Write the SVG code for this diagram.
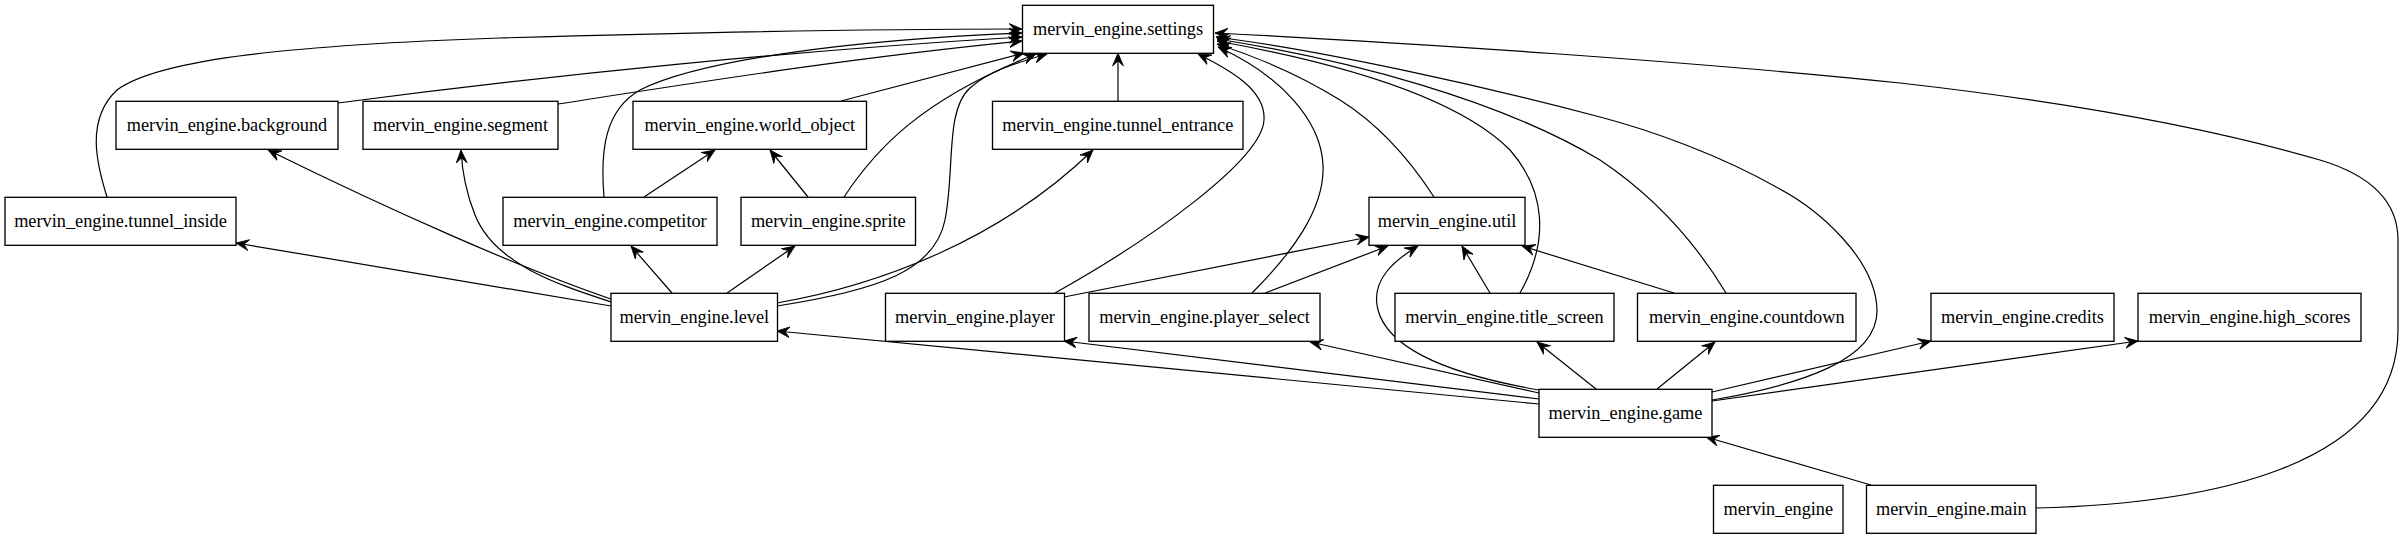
<svg xmlns="http://www.w3.org/2000/svg" width="2406" height="539" viewBox="0 0 2406 539">
<style>
.n rect{fill:#fff;stroke:#000;stroke-width:1.33}
.n text{font-family:"Liberation Serif","Times New Roman",serif;font-size:18.3px;text-anchor:middle;fill:#000}
.e path{fill:none;stroke:#000;stroke-width:1.2;marker-end:url(#arr)}
</style>
<defs>
<marker id="arr" markerUnits="userSpaceOnUse" markerWidth="14" markerHeight="12" viewBox="0 0 14 12" refX="13" refY="6" orient="auto">
<path d="M0,0.5 L13,6 L0,11.5 L5,6 Z" fill="#000" stroke="#000" stroke-width="0.8"/>
</marker>
</defs>
<rect width="2406" height="539" fill="#fff"/>
<g id="connectors" class="e">
<!-- to settings -->
<path d="M107,197 C97,165 85,120 117,90 C160,58 300,45 500,38 C700,32 900,29 1022,29"/>
<path d="M338,103 C550,75 800,50 1022,37"/>
<path d="M558,104 C700,82 850,58 1022,41"/>
<path d="M604,197 C600,150 605,110 640,90 C700,60 850,40 1022,33"/>
<path d="M841,101 L1024,53"/>
<path d="M844,197 C875,150 920,100 1036,54"/>
<path d="M777,306 C880,290 935,270 945,220 C955,170 945,110 970,88 C990,70 1020,62 1047,54"/>
<path d="M1118,101 L1118,53"/>
<path d="M1055,293 C1150,240 1262,160 1264,120 C1266,90 1230,70 1198,54"/>
<path d="M1252,293 C1290,255 1325,210 1323,165 C1321,120 1280,75 1218,47"/>
<path d="M1434,197 C1410,160 1380,125 1340,100 C1300,75 1260,58 1217,44"/>
<path d="M1520,293 C1550,240 1545,190 1510,150 C1460,100 1350,65 1217,41"/>
<path d="M1726,293 C1700,250 1660,200 1600,160 C1500,100 1350,60 1217,39"/>
<path d="M1712,400 C1800,385 1878,360 1877,310 C1876,260 1820,210 1778,188 C1720,155 1650,130 1600,117 C1480,85 1320,50 1216,37"/>
<path d="M2036,508 C2200,504 2398,470 2398,330 L2398,240 C2398,200 2370,175 2320,160 C2200,125 2050,100 1900,83 C1700,62 1400,42 1215,33"/>
<!-- to util -->
<path d="M1064,297 L1369,237"/>
<path d="M1265,293 L1388,246"/>
<path d="M1539,390 C1470,378 1390,355 1378,310 C1370,280 1395,260 1418,246"/>
<path d="M1490,293 L1462,246"/>
<path d="M1674,293 L1522,246"/>
<!-- from level -->
<path d="M611,299 C520,268 390,210 268,150"/>
<path d="M611,302 C560,285 495,265 475,215 C465,190 462,170 461,150"/>
<path d="M611,306 L236,243"/>
<path d="M672,293 L631,246"/>
<path d="M727,293 L795,246"/>
<path d="M777,303 C880,285 1000,240 1093,150"/>
<!-- to world_object -->
<path d="M644,197 L715,150"/>
<path d="M808,197 L770,150"/>
<!-- from game -->
<path d="M1539,404 L777,331"/>
<path d="M1539,399 L1064,341"/>
<path d="M1539,393 L1310,342"/>
<path d="M1596,389 L1537,342"/>
<path d="M1657,389 L1715,342"/>
<path d="M1712,392 L1931,341"/>
<path d="M1712,401 L2138,341"/>
<!-- main to game -->
<path d="M1871,485 L1706,437"/>
</g>
<g id="node-settings" class="n"><rect x="1022.5" y="5.3" width="191" height="48"/><text x="1118" y="34.8">mervin_engine.settings</text></g>
<g id="node-background" class="n"><rect x="116" y="101.3" width="222" height="48"/><text x="227" y="130.8">mervin_engine.background</text></g>
<g id="node-segment" class="n"><rect x="363" y="101.3" width="195" height="48"/><text x="460.5" y="130.8">mervin_engine.segment</text></g>
<g id="node-world_object" class="n"><rect x="633" y="101.3" width="233.5" height="48"/><text x="749.8" y="130.8">mervin_engine.world_object</text></g>
<g id="node-tunnel_entrance" class="n"><rect x="992.5" y="101.3" width="250.5" height="48"/><text x="1117.8" y="130.8">mervin_engine.tunnel_entrance</text></g>
<g id="node-tunnel_inside" class="n"><rect x="5" y="197.3" width="231" height="48"/><text x="120.5" y="226.8">mervin_engine.tunnel_inside</text></g>
<g id="node-competitor" class="n"><rect x="503" y="197.3" width="214" height="48"/><text x="610" y="226.8">mervin_engine.competitor</text></g>
<g id="node-sprite" class="n"><rect x="741" y="197.3" width="174.5" height="48"/><text x="828.3" y="226.8">mervin_engine.sprite</text></g>
<g id="node-util" class="n"><rect x="1369" y="197.3" width="156" height="48"/><text x="1447" y="226.8">mervin_engine.util</text></g>
<g id="node-level" class="n"><rect x="611" y="293.3" width="166.5" height="48"/><text x="694.3" y="322.8">mervin_engine.level</text></g>
<g id="node-player" class="n"><rect x="885.5" y="293.3" width="179" height="48"/><text x="975" y="322.8">mervin_engine.player</text></g>
<g id="node-player_select" class="n"><rect x="1089" y="293.3" width="231" height="48"/><text x="1204.5" y="322.8">mervin_engine.player_select</text></g>
<g id="node-title_screen" class="n"><rect x="1395" y="293.3" width="219" height="48"/><text x="1504.5" y="322.8">mervin_engine.title_screen</text></g>
<g id="node-countdown" class="n"><rect x="1637.5" y="293.3" width="218.5" height="48"/><text x="1746.8" y="322.8">mervin_engine.countdown</text></g>
<g id="node-credits" class="n"><rect x="1931" y="293.3" width="183" height="48"/><text x="2022.5" y="322.8">mervin_engine.credits</text></g>
<g id="node-high_scores" class="n"><rect x="2138" y="293.3" width="223" height="48"/><text x="2249.5" y="322.8">mervin_engine.high_scores</text></g>
<g id="node-game" class="n"><rect x="1539" y="389.3" width="173" height="48"/><text x="1625.5" y="418.8">mervin_engine.game</text></g>
<g id="node-mervin_engine" class="n"><rect x="1713.5" y="485.3" width="129.5" height="48"/><text x="1778.3" y="514.8">mervin_engine</text></g>
<g id="node-main" class="n"><rect x="1866.5" y="485.3" width="169.5" height="48"/><text x="1951.3" y="514.8">mervin_engine.main</text></g>
</svg>
